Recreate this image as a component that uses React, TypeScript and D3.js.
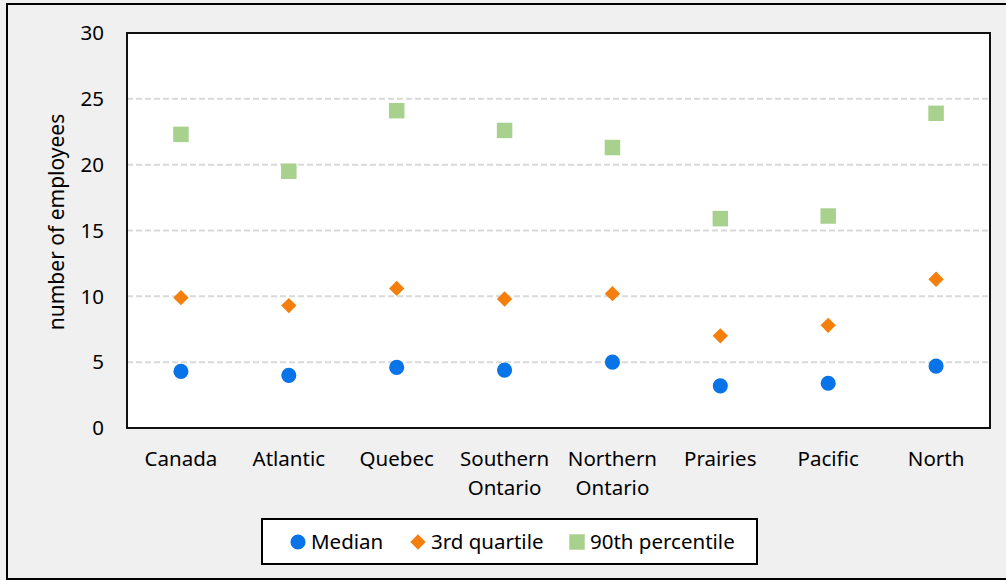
import { useEffect, useRef } from 'react'
import * as d3 from 'd3'

// --- DATA ---
const categories = [
  'Canada',
  'Atlantic',
  'Quebec',
  'Southern Ontario',
  'Northern Ontario',
  'Prairies',
  'Pacific',
  'North',
]
const median = [4.3, 4.0, 4.6, 4.4, 5.0, 3.2, 3.4, 4.7]
const thirdQuartile = [9.9, 9.3, 10.6, 9.8, 10.2, 7.0, 7.8, 11.3]
const percentile90 = [22.3, 19.5, 24.1, 22.6, 21.3, 15.9, 16.1, 23.9]
const yTicks = [0, 5, 10, 15, 20, 25, 30]

const seriesNames = ['Median', '3rd quartile', '90th percentile']
const seriesColors = ['#0874e8', '#f57f0c', '#a9d18e']
const seriesShapes = [d3.symbolCircle, d3.symbolDiamond2, d3.symbolSquare]

const W = 1006
const H = 580
const FONT = '"Noto Sans", sans-serif'
const FS = 20.5

export default function App() {
  const svgRef = useRef<SVGSVGElement | null>(null)

  useEffect(() => {
    document.body.style.margin = '0'
    if (!svgRef.current) return

    const svg = d3.select<SVGSVGElement, unknown>(svgRef.current)
    svg.selectAll('*').remove()

    // background + outer frame
    svg.append('rect').attr('width', W).attr('height', H).attr('fill', '#f0f0f0')
    svg
      .append('rect')
      .attr('x', 7)
      .attr('y', 4)
      .attr('width', W + 10)
      .attr('height', 575)
      .attr('fill', 'none')
      .attr('stroke', '#000')
      .attr('stroke-width', 2)

    const plot = { left: 127, right: 990, top: 33, bottom: 428 }

    // --- SCALES ---
    const x = d3
      .scaleBand<string>()
      .domain(categories)
      .range([plot.left, plot.right])

    const y = d3
      .scaleLinear()
      .domain([0, 30])
      .range([plot.bottom, plot.top])

    svg
      .append('rect')
      .attr('x', plot.left)
      .attr('y', plot.top)
      .attr('width', plot.right - plot.left)
      .attr('height', plot.bottom - plot.top)
      .attr('fill', '#fff')

    // --- GRID ---
    svg
      .append('g')
      .selectAll('line')
      .data(yTicks.filter((t) => t > 0 && t < 30))
      .enter()
      .append('line')
      .attr('x1', plot.left)
      .attr('x2', plot.right)
      .attr('y1', (d) => y(d))
      .attr('y2', (d) => y(d))
      .attr('stroke', '#d9d9d9')
      .attr('stroke-width', 2)
      .attr('stroke-dasharray', '6,3')

    // plot frame
    svg
      .append('rect')
      .attr('x', plot.left)
      .attr('y', plot.top)
      .attr('width', plot.right - plot.left)
      .attr('height', plot.bottom - plot.top)
      .attr('fill', 'none')
      .attr('stroke', '#111')
      .attr('stroke-width', 2)

    // --- Y TICK LABELS ---
    svg
      .append('g')
      .selectAll('text')
      .data(yTicks)
      .enter()
      .append('text')
      .attr('x', 104)
      .attr('y', (d) => y(d))
      .attr('dy', '0.35em')
      .attr('text-anchor', 'end')
      .attr('font-family', FONT)
      .attr('font-size', FS)
      .attr('fill', '#000')
      .text((d) => d)

    svg
      .append('text')
      .attr('transform', `translate(64, 222) rotate(-90)`)
      .attr('text-anchor', 'middle')
      .attr('font-family', FONT)
      .attr('font-size', 21)
      .text('number of employees')

    // --- X LABELS ---
    const xl = svg.append('g')
    categories.forEach((c) => {
      const cx = (x(c) ?? 0) + x.bandwidth() / 2
      const words = c.split(' ')
      const t = xl
        .append('text')
        .attr('x', cx)
        .attr('y', 466)
        .attr('text-anchor', 'middle')
        .attr('font-family', FONT)
        .attr('font-size', FS)
      words.forEach((w, i) => {
        t.append('tspan')
          .attr('x', cx)
          .attr('dy', i === 0 ? 0 : 29)
          .text(w)
      })
    })

    // --- POINTS ---
    const series = [median, thirdQuartile, percentile90]
    const sizes = [180, 150, 240]
    series.forEach((vals, si) => {
      const sym = d3.symbol().type(seriesShapes[si]).size(sizes[si])
      svg
        .append('g')
        .selectAll('path')
        .data(vals)
        .enter()
        .append('path')
        .attr('d', sym)
        .attr(
          'transform',
          (d, i) => `translate(${(x(categories[i]) ?? 0) + x.bandwidth() / 2}, ${y(d)})`
        )
        .attr('fill', seriesColors[si])
    })

    // --- LEGEND ---
    svg
      .append('rect')
      .attr('x', 262)
      .attr('y', 519)
      .attr('width', 495)
      .attr('height', 45)
      .attr('fill', '#fff')
      .attr('stroke', '#000')
      .attr('stroke-width', 2)

    const legendX = [298, 418, 577]
    seriesNames.forEach((name, i) => {
      const g = svg.append('g').attr('transform', `translate(${legendX[i]}, 542)`)
      g.append('path')
        .attr('d', d3.symbol().type(seriesShapes[i]).size(sizes[i]))
        .attr('fill', seriesColors[i])
      g.append('text')
        .attr('x', 13)
        .attr('dy', '0.35em')
        .attr('font-family', FONT)
        .attr('font-size', FS)
        .text(name)
    })
  }, [])

  return <svg ref={svgRef} width={W} height={H} style={{ display: 'block' }} />
}
